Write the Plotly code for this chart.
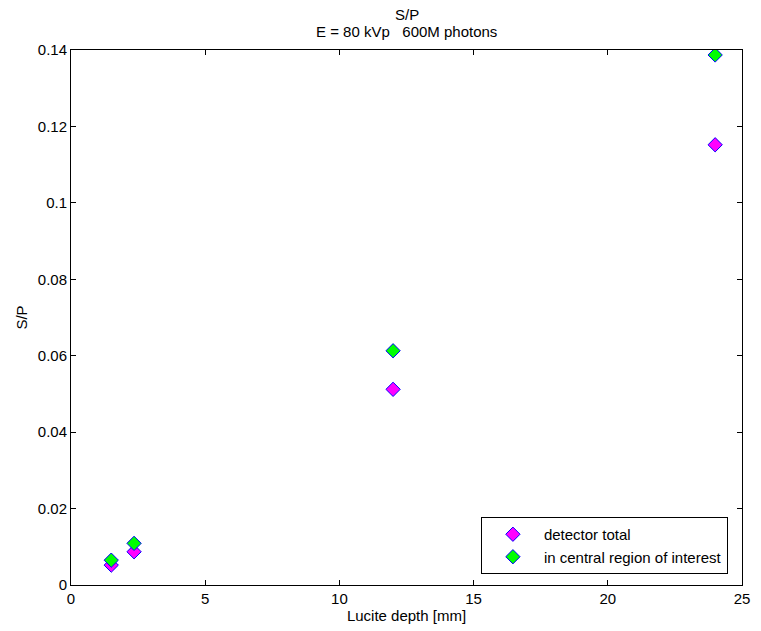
import plotly.graph_objects as go

depth = [1.5, 2.35, 12, 24]
detector_total = [0.0052, 0.0087, 0.0512, 0.1152]
central_roi = [0.0065, 0.0109, 0.0613, 0.1387]

x_ticks = [0, 5, 10, 15, 20, 25]
y_ticks = [0, 0.02, 0.04, 0.06, 0.08, 0.1, 0.12, 0.14]
y_tick_labels = ["0", "0.02", "0.04", "0.06", "0.08", "0.1", "0.12", "0.14"]
title_lines = ["S/P", "E = 80 kVp   600M photons"]

FONT = "Liberation Sans, Arial, Helvetica, sans-serif"
FS = 15

fig = go.Figure()
fig.add_trace(go.Scatter(
    x=depth, y=detector_total, mode="markers", name="detector total",
    marker=dict(symbol="diamond", size=11, color="#ff00ff",
                line=dict(color="#0000ff", width=1)),
))
fig.add_trace(go.Scatter(
    x=depth, y=central_roi, mode="markers", name="in central region of interest",
    marker=dict(symbol="diamond", size=11, color="#00ff00",
                line=dict(color="#0000ff", width=1)),
))

axis_common = dict(
    showline=True, linecolor="black", linewidth=1, mirror="ticks",
    ticks="inside", ticklen=5, tickcolor="black", tickwidth=1,
    showgrid=False, zeroline=False,
    tickfont=dict(family=FONT, size=FS, color="black"),
)

annotations = []
for i, line in enumerate(title_lines):
    annotations.append(dict(
        text=line, xref="paper", yref="paper", x=0.5, y=1,
        xanchor="center", yanchor="middle",
        yshift=36 - 17 * i, showarrow=False,
        font=dict(family=FONT, size=FS, color="black"),
    ))

fig.update_layout(
    width=761, height=631,
    margin=dict(l=71, r=11, t=50, b=46),
    paper_bgcolor="white", plot_bgcolor="white",
    font=dict(family=FONT, size=FS, color="black"),
    showlegend=True,
    legend=dict(
        x=0.979, y=0.0206, xanchor="right", yanchor="bottom",
        bordercolor="black", borderwidth=1, bgcolor="white",
        font=dict(family=FONT, size=FS, color="black"),
        itemwidth=52, tracegroupgap=0,
    ),
    xaxis=dict(range=[0, 25], tickvals=x_ticks,
               title=dict(text="Lucite depth [mm]", standoff=2,
                          font=dict(family=FONT, size=FS, color="black")),
               **axis_common),
    yaxis=dict(range=[0, 0.14], tickvals=y_ticks, ticktext=y_tick_labels,
               title=dict(text="S/P", standoff=6,
                          font=dict(family=FONT, size=FS, color="black")),
               **axis_common),
    annotations=annotations,
)

fig.write_html("out.html")
